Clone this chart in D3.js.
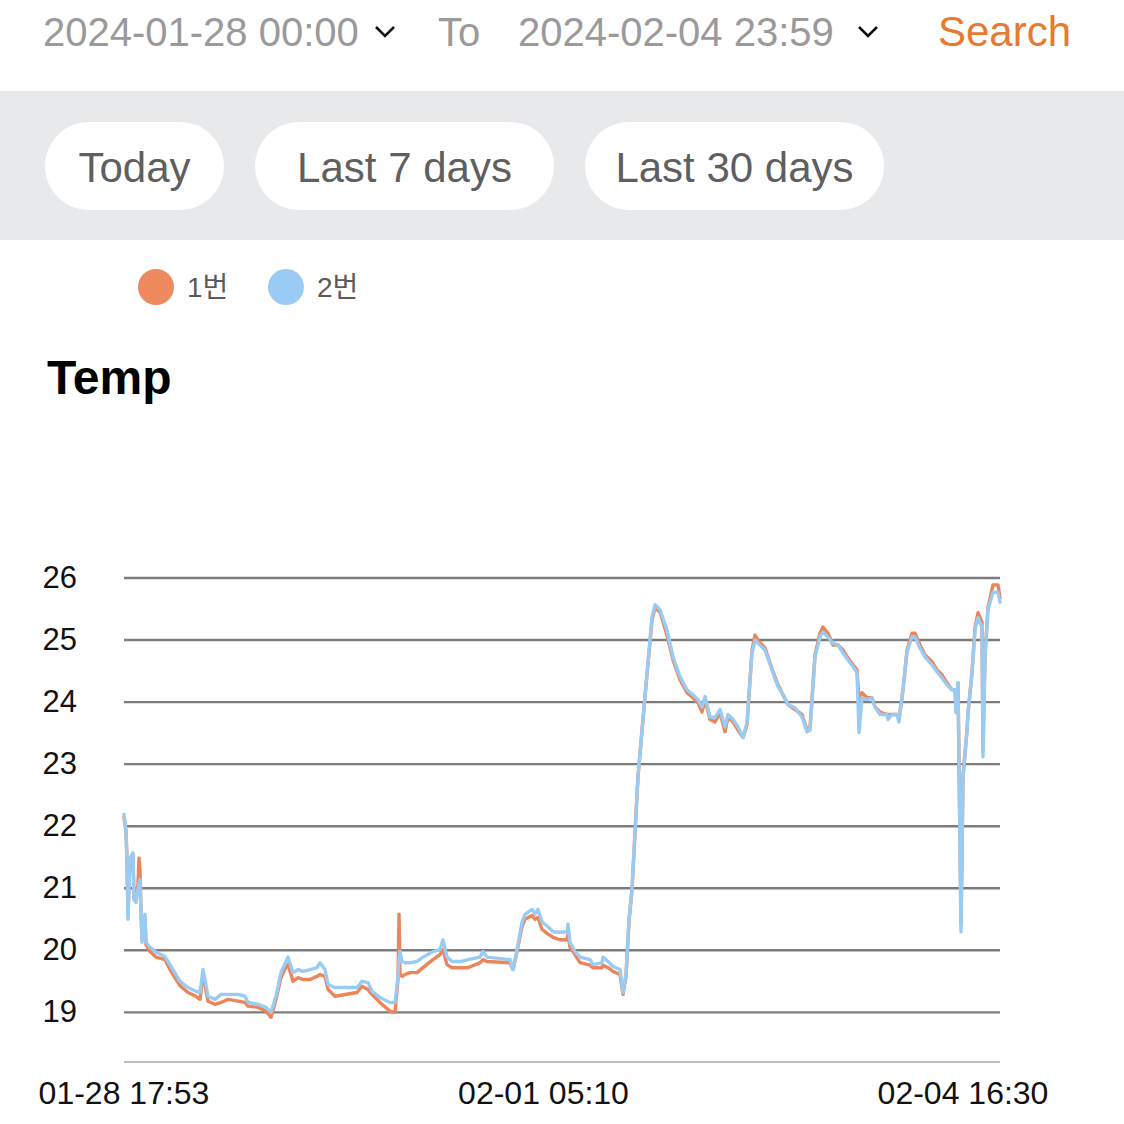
<!DOCTYPE html>
<html>
<head>
<meta charset="utf-8">
<script src="https://cdn.jsdelivr.net/npm/d3@7"></script>
<style>
html,body{margin:0;padding:0;background:#fff;}
svg{display:block;font-family:"Liberation Sans","Noto Sans CJK KR",Arial,sans-serif;}
</style>
</head>
<body>
<svg id="chart" width="1124" height="1124"></svg>
<script>
// ---- data ----
const startTime = "2024-01-28 17:53";
const endTime = "2024-02-04 16:30";
const xTickLabels = ["01-28 17:53", "02-01 05:10", "02-04 16:30"];
const yTicks = [19, 20, 21, 22, 23, 24, 25, 26];
const seriesNames = ["1번", "2번"];
const headerFrom = "2024-01-28 00:00";
const headerTo = "2024-02-04 23:59";
const quickRanges = ["Today", "Last 7 days", "Last 30 days"];

// hours since start
const hours = [
0,0.38,0.57,0.76,1.14,1.71,1.90,2.28,2.66,2.85,
3.04,3.23,3.42,3.99,4.18,4.95,6.09,7.80,8.94,10.65,
12.17,13.69,14.46,15.03,15.98,17.31,18.45,19.78,21.68,23.01,
23.58,25.49,27.01,27.96,28.91,29.86,30.81,31.19,32.14,33.09,
34.05,35.38,36.71,37.28,38.23,38.80,40.13,44.32,45.27,46.41,
47.17,48.69,50.59,51.54,52.11,52.31,52.50,52.88,53.45,54.40,
55.73,56.87,58.77,60.10,60.67,61.43,62.39,64.29,65.43,67.71,
68.28,69.04,73.42,73.99,74.75,75.70,76.27,77.60,78.17,78.74,
79.50,80.65,81.60,82.93,84.26,84.45,84.83,85.78,86.73,88.63,
89.20,90.92,91.11,92.06,93.01,94.34,94.91,95.48,96.05,96.62,
97.76,99.09,100.43,101.00,101.95,103.28,104.42,105.75,107.08,108.22,
109.17,109.94,110.51,111.46,112.41,113.36,114.31,114.88,115.84,116.79,
117.74,118.49,119.45,120.02,120.59,121.92,123.44,124.39,125.34,126.29,
127.62,128.96,129.91,130.48,131.43,132.38,132.95,133.90,134.85,135.80,
136.75,137.70,138.66,139.42,139.80,140.37,141.32,142.27,142.84,143.79,
145.12,145.31,146.07,147.02,147.40,148.17,148.93,149.88,150.45,151.40,
152.35,153.68,154.63,155.58,156.53,157.48,158.06,158.25,158.63,159.20,
159.58,160.34,160.53,161.29,161.86,162.43,163.19,163.38,163.76,164.33,
165.28,166.23,166.62
];

// 1번 (orange)
const temp1 = [
22.14,21.91,21.43,20.58,21.46,21.53,20.85,20.82,21.06,21.49,
21.30,20.63,20.17,20.53,20.09,19.98,19.89,19.85,19.66,19.43,
19.32,19.26,19.21,19.61,19.18,19.13,19.16,19.21,19.18,19.16,
19.10,19.08,19.02,18.92,19.21,19.56,19.74,19.77,19.50,19.56,
19.53,19.53,19.58,19.61,19.58,19.37,19.26,19.32,19.42,19.37,
19.29,19.16,19.02,19.00,19.53,20.58,19.61,19.58,19.61,19.64,
19.64,19.72,19.85,19.93,20.01,19.77,19.72,19.72,19.72,19.80,
19.85,19.82,19.80,19.69,19.98,20.38,20.50,20.56,20.50,20.53,
20.34,20.26,20.21,20.17,20.17,20.26,20.05,19.93,19.80,19.76,
19.72,19.72,19.76,19.72,19.66,19.61,19.29,19.58,20.46,20.98,
22.80,24.09,25.32,25.52,25.45,25.08,24.68,24.36,24.15,24.07,
23.99,23.84,24.04,23.72,23.68,23.83,23.52,23.76,23.68,23.55,
23.43,23.63,24.84,25.08,25.00,24.87,24.49,24.28,24.12,23.96,
23.88,23.80,23.55,23.59,24.76,25.11,25.21,25.11,24.92,24.92,
24.84,24.71,24.60,24.52,24.04,24.15,24.07,24.07,23.92,23.84,
23.80,23.80,23.80,23.80,23.72,24.20,24.84,25.11,25.11,24.92,
24.76,24.65,24.52,24.44,24.31,24.20,24.20,23.88,24.31,20.42,
22.80,23.55,23.83,24.47,25.20,25.44,25.29,23.23,24.73,25.52,
25.89,25.89,25.68
];

// 2번 (blue)
const temp2 = [
22.19,21.94,21.46,20.50,21.49,21.57,20.82,20.77,20.98,21.06,
21.14,20.66,20.13,20.58,20.13,20.05,19.97,19.90,19.74,19.50,
19.40,19.34,19.32,19.69,19.26,19.21,19.29,19.29,19.29,19.26,
19.16,19.13,19.08,19.00,19.26,19.64,19.82,19.89,19.64,19.69,
19.66,19.69,19.72,19.80,19.69,19.45,19.40,19.40,19.50,19.48,
19.34,19.24,19.16,19.16,19.58,19.85,19.98,19.82,19.80,19.80,
19.82,19.89,19.98,20.01,20.17,19.89,19.82,19.82,19.85,19.89,
19.98,19.89,19.85,19.69,20.01,20.45,20.58,20.66,20.58,20.66,
20.46,20.38,20.30,20.29,20.30,20.42,20.13,19.98,19.89,19.85,
19.77,19.80,19.89,19.82,19.74,19.69,19.32,19.61,20.50,20.98,
22.80,24.09,25.37,25.57,25.49,25.16,24.73,24.41,24.20,24.12,
24.04,23.92,24.09,23.76,23.75,23.88,23.60,23.80,23.72,23.60,
23.43,23.67,24.79,25.00,24.95,24.84,24.47,24.25,24.12,23.96,
23.91,23.76,23.52,23.55,24.73,25.05,25.13,25.05,24.95,24.92,
24.79,24.68,24.57,24.47,23.51,24.07,24.04,24.07,23.92,23.80,
23.80,23.72,23.80,23.80,23.68,24.20,24.81,25.05,25.05,24.87,
24.73,24.60,24.49,24.39,24.28,24.20,24.20,23.83,24.31,20.30,
22.80,23.55,23.83,24.47,25.16,25.36,25.21,23.12,24.73,25.49,
25.77,25.77,25.61
];

const colors = ["#EC8559", "#9ACBF2"];
const legendColors = ["#EE8A5D", "#9ACBF4"];

// ---- drawing ----
const svg = d3.select("#chart");
const parse = d3.timeParse("%Y-%m-%d %H:%M");
const t0 = parse(startTime), t1 = parse(endTime);

// Header
const gh = svg.append("g");
gh.append("text").attr("x", 43).attr("y", 46).attr("font-size", 40).attr("fill", "#9a9a9a").text(headerFrom);
gh.append("path").attr("d", "M376,27 L385,36 L394,27").attr("fill", "none").attr("stroke", "#111").attr("stroke-width", 2.6);
gh.append("text").attr("x", 438).attr("y", 46).attr("font-size", 40).attr("fill", "#9a9a9a").text("To");
gh.append("text").attr("x", 518).attr("y", 46).attr("font-size", 40).attr("fill", "#9a9a9a").text(headerTo);
gh.append("path").attr("d", "M859,27 L868,36 L877,27").attr("fill", "none").attr("stroke", "#111").attr("stroke-width", 2.6);
gh.append("text").attr("x", 1071).attr("y", 46).attr("font-size", 42).attr("text-anchor", "end").attr("fill", "#E8792F").text("Search");

// quick range band
svg.append("rect").attr("x", 0).attr("y", 91).attr("width", 1124).attr("height", 149).attr("fill", "#E8E9EB");
const btnX = [45, 255, 585], btnW = [179, 299, 299];
quickRanges.forEach((label, i) => {
  svg.append("rect").attr("x", btnX[i]).attr("y", 122).attr("width", btnW[i]).attr("height", 88)
    .attr("rx", 44).attr("fill", "#fff");
  svg.append("text").attr("x", btnX[i] + btnW[i] / 2).attr("y", 182).attr("text-anchor", "middle")
    .attr("font-size", 42).attr("fill", "#5f5f5f").text(label);
});

// legend
const legX = [156, 286];
seriesNames.forEach((name, i) => {
  svg.append("circle").attr("cx", legX[i]).attr("cy", 287).attr("r", 18).attr("fill", legendColors[i]);
  svg.append("text").attr("x", legX[i] + 31).attr("y", 297).attr("font-size", 28).attr("fill", "#5a5a5a").text(name);
});

// title
svg.append("text").attr("x", 47).attr("y", 394).attr("font-size", 48).attr("font-weight", "bold").attr("fill", "#000").text("Temp");

// scales
const x = d3.scaleTime().domain([t0, t1]).range([124, 1000]);
const y = d3.scaleLinear().domain([18.2, 26]).range([1062, 578]);

// grid lines
svg.append("g").selectAll("line").data(yTicks).join("line")
  .attr("x1", 124).attr("x2", 1000)
  .attr("y1", d => y(d)).attr("y2", d => y(d))
  .attr("stroke", "#7d7d7d").attr("stroke-width", 2.4);

// y labels
svg.append("g").selectAll("text").data(yTicks).join("text")
  .attr("x", 77).attr("y", d => y(d) + 10).attr("text-anchor", "end")
  .attr("font-size", 31).attr("fill", "#111").text(d => d);

// x axis line
svg.append("line").attr("x1", 124).attr("x2", 1000).attr("y1", 1062).attr("y2", 1062)
  .attr("stroke", "#a6a6a6").attr("stroke-width", 1.6);

// x labels: evenly spread, first centred on the start, last kept inside the canvas
const labelPos = d3.scalePoint().domain(xTickLabels).range([x(t0), x(t1) - 37]);
svg.append("g").selectAll("text").data(xTickLabels).join("text")
  .attr("x", d => labelPos(d)).attr("y", 1104).attr("text-anchor", "middle")
  .attr("font-size", 32).attr("fill", "#111").text(d => d);

// lines
const times = hours.map(h => new Date(t0.getTime() + h * 3600000));
const line = d3.line().x(d => x(d[0])).y(d => y(d[1]));
[temp1, temp2].forEach((vals, i) => {
  const pts = times.map((t, j) => [t, vals[j]]);
  svg.append("path").datum(pts).attr("d", line)
    .attr("fill", "none").attr("stroke", colors[i]).attr("stroke-width", 3.4)
    .attr("stroke-linejoin", "round").attr("stroke-linecap", "round");
});
</script>
</body>
</html>
